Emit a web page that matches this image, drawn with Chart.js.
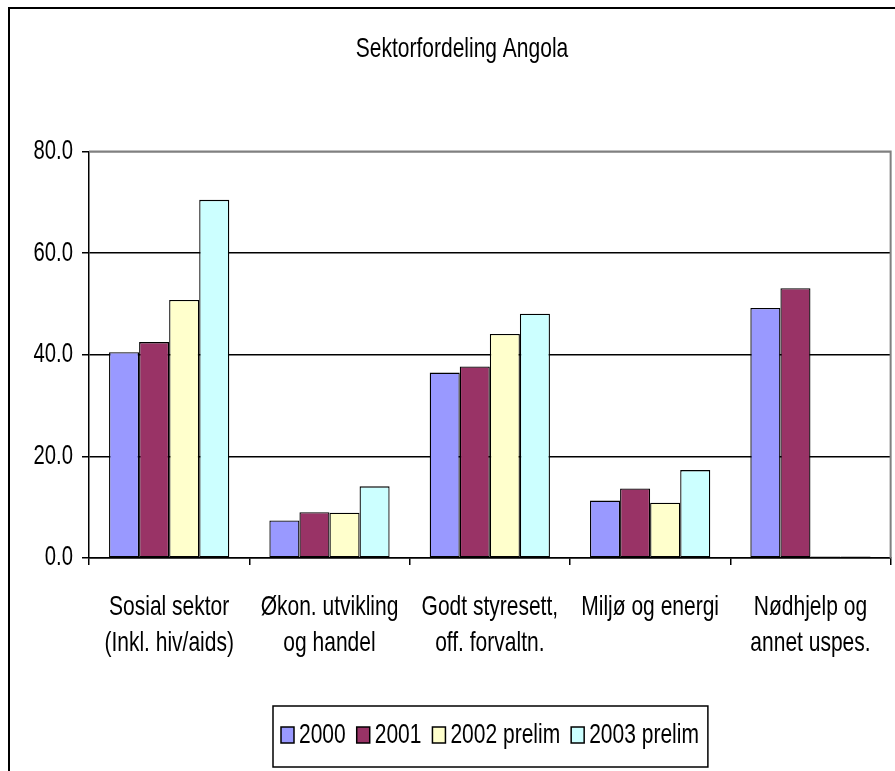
<!DOCTYPE html>
<html>
<head>
<meta charset="utf-8">
<script src="https://cdn.jsdelivr.net/npm/chart.js@4/dist/chart.umd.min.js"></script>
<style>
  html, body { margin: 0; padding: 0; background: #fff; }
  canvas { display: block; }
</style>
</head>
<body>
<canvas id="chart" width="895" height="771"></canvas>
<script>
// Sector categories (two-line axis labels)
const categories = [
  ['Sosial sektor', '(Inkl. hiv/aids)'],
  ['Økon. utvikling', 'og handel'],
  ['Godt styresett,', 'off. forvaltn.'],
  ['Miljø og energi'],
  ['Nødhjelp og', 'annet uspes.']
];

// Series names and values per sector
const seriesNames = ['2000', '2001', '2002 prelim', '2003 prelim'];
const values2000 = [40.5, 7.4, 36.5, 11.3, 49.2];
const values2001 = [42.5, 9.0, 37.7, 13.7, 53.1];
const values2002 = [50.8, 8.9, 44.1, 10.9, 0.3];
const values2003 = [70.5, 14.1, 48.1, 17.3, 0.3];
const seriesValues = [values2000, values2001, values2002, values2003];
const seriesColors = ['#9999FF', '#993366', '#FFFFCC', '#CCFFFF'];

// Value axis
const yMin = 0;
const yMax = 80;
const yStep = 20;

const titleText = 'Sektorfordeling Angola';
const FONT = '"Liberation Sans", Arial, sans-serif';

// Condensed lettering: every text draw/measure on this canvas is squeezed horizontally
const SX = 0.75;
const canvas = document.getElementById('chart');
const ctx2d = canvas.getContext('2d');
const protoFill = CanvasRenderingContext2D.prototype.fillText;
const protoMeasure = CanvasRenderingContext2D.prototype.measureText;
ctx2d.fillText = function (text, x, y, maxWidth) {
  this.save();
  this.translate(x, y);
  this.scale(SX, 1);
  if (maxWidth === undefined || maxWidth === null) {
    protoFill.call(this, text, 0, 0);
  } else {
    protoFill.call(this, text, 0, 0, maxWidth / SX);
  }
  this.restore();
};
ctx2d.measureText = function (text) {
  const m = protoMeasure.call(this, text);
  return {
    width: m.width * SX,
    actualBoundingBoxLeft: m.actualBoundingBoxLeft * SX,
    actualBoundingBoxRight: m.actualBoundingBoxRight * SX,
    actualBoundingBoxAscent: m.actualBoundingBoxAscent,
    actualBoundingBoxDescent: m.actualBoundingBoxDescent
  };
};

// Frames, plot border and the boxed legend
const decorations = {
  id: 'decorations',
  beforeDraw(chart) {
    const c = chart.ctx;
    c.save();
    c.fillStyle = '#fff';
    c.fillRect(0, 0, chart.width, chart.height);
    c.strokeStyle = '#000';
    c.lineWidth = 2;
    c.strokeRect(9, 8, chart.width + 20, chart.height + 20);
    c.restore();
  },
  beforeDatasetsDraw(chart) {
    const a = chart.chartArea;
    const c = chart.ctx;
    c.save();
    c.strokeStyle = '#808080';
    c.lineWidth = 2;
    c.beginPath();
    c.moveTo(a.left, a.top);
    c.lineTo(a.right, a.top);
    c.lineTo(a.right, a.bottom);
    c.stroke();
    c.restore();
  },
  afterDraw(chart) {
    const c = chart.ctx;
    const boxW = 13, boxH = 16, boxTop = 727, textY = 735;
    const startX = 281;
    c.save();
    c.font = '28px ' + FONT;
    c.textAlign = 'left';
    c.textBaseline = 'middle';
    let x = startX;
    chart.data.datasets.forEach((ds) => {
      c.fillStyle = ds.backgroundColor;
      c.fillRect(x, boxTop, boxW, boxH);
      c.strokeStyle = '#000';
      c.lineWidth = 1.5;
      c.strokeRect(x, boxTop, boxW, boxH);
      c.fillStyle = '#000';
      c.fillText(ds.label, x + boxW + 5, textY);
      x += boxW + 5 + c.measureText(ds.label).width + 11;
    });
    c.strokeStyle = '#000';
    c.lineWidth = 1.5;
    c.strokeRect(startX - 8, 706, (x - 11 + 9) - (startX - 8), 61);
    c.restore();
  }
};

const datasets = seriesNames.map((name, i) => ({
  label: name,
  data: seriesValues[i],
  backgroundColor: seriesColors[i],
  borderColor: '#000',
  borderWidth: 1.3,
  borderSkipped: false,
  categoryPercentage: 0.75,
  barPercentage: 1.0
}));

new Chart(ctx2d, {
  type: 'bar',
  data: { labels: categories, datasets },
  options: {
    responsive: false,
    animation: false,
    devicePixelRatio: 1,
    layout: { padding: { left: 33, right: 4, top: 0, bottom: 103 } },
    plugins: {
      legend: { display: false },
      tooltip: { enabled: false },
      title: {
        display: true,
        text: titleText,
        color: '#000',
        font: { family: FONT, size: 28, weight: 'normal' },
        padding: { top: 32, bottom: 86 }
      }
    },
    scales: {
      x: {
        offset: true,
        grid: {
          offset: true,
          drawOnChartArea: false,
          drawTicks: true,
          tickLength: 7,
          color: '#000',
          lineWidth: 1.5
        },
        border: { color: '#000', width: 1.5 },
        ticks: {
          color: '#000',
          padding: 24,
          maxRotation: 0,
          autoSkip: false,
          font: { family: FONT, size: 28, lineHeight: 36 / 28 }
        },
        afterFit(axis) { axis.height = 110; }
      },
      y: {
        min: yMin,
        max: yMax,
        grid: {
          color: (c) => (c.tick && c.tick.value === yMax ? '#808080' : '#000'),
          tickColor: '#000',
          lineWidth: 1.5,
          tickLength: 7
        },
        border: { color: '#000', width: 1.5 },
        ticks: {
          stepSize: yStep,
          color: '#000',
          padding: 9,
          font: { family: FONT, size: 27 },
          callback: (v) => Number(v).toFixed(1)
        },
        afterFit(axis) { axis.width = 56; }
      }
    }
  },
  plugins: [decorations]
});
</script>
</body>
</html>
